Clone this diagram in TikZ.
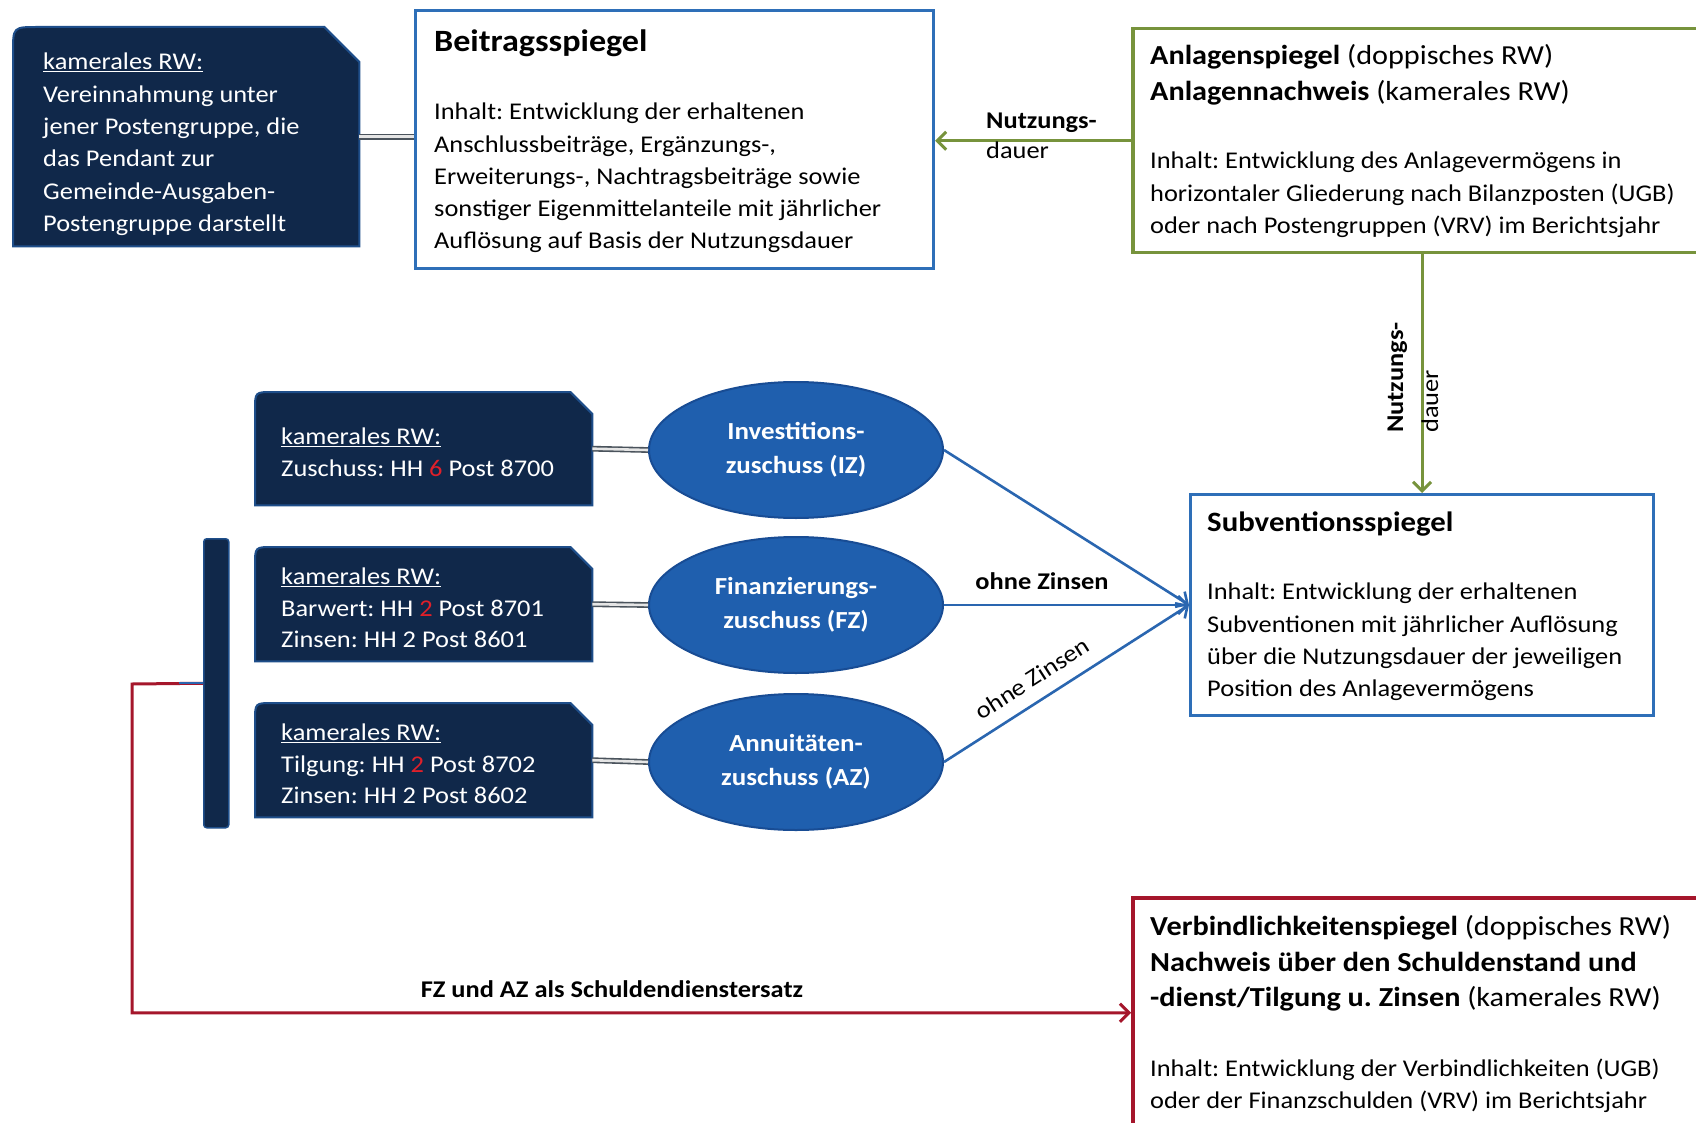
\documentclass[tikz,border=0pt]{standalone}
\usepackage{fontspec}
\setmainfont{Carlito}[FakeStretch=1.1]
\usetikzlibrary{arrows.meta,shapes.geometric,calc}
\definecolor{navy}{HTML}{10284A}
\definecolor{navyedge}{HTML}{1E4E8A}
\definecolor{ellfill}{HTML}{1F5FAE}
\definecolor{elledge}{HTML}{184C94}
\definecolor{boxblue}{HTML}{2E6FB8}
\definecolor{lineblue}{HTML}{2A66B0}
\definecolor{olive}{HTML}{77933C}
\definecolor{darkred}{HTML}{A5162B}
\definecolor{dblgray}{HTML}{4A535C}
\definecolor{digitred}{HTML}{E0202A}
\newcommand{\mysnip}[3]{%
  \filldraw[navybox] (#1.south west) -- ($(#1.north west)+(0,#3)$) .. controls (#1.north west) .. ($(#1.north west)+(#3,0)$) -- ($(#1.north east)+(-#2,0)$) -- ($(#1.north east)+(0,#2)$) -- (#1.south east) -- cycle;}
\frenchspacing
\begin{document}
\frenchspacing
\begin{tikzpicture}[x=1pt,y=-1pt,
  navybox/.style={fill=navy,draw=navyedge,line width=2pt},
  area/.style={draw=none,inner sep=0pt,anchor=north west},
  txt/.style={anchor=north west,inner sep=0pt,align=left,font=\fontsize{24}{32.2}\selectfont},
  wtxt/.style={txt,text=white},
  titletxt/.style={anchor=north west,inner sep=0pt,align=left,font=\fontsize{27.5}{35.8}\selectfont},
  btitle/.style={anchor=base west,inner sep=0pt,font=\bfseries\fontsize{#1}{30}\selectfont},
  lbl/.style={inner sep=0pt,font=\bfseries\fontsize{24}{26}\selectfont},
  plainlbl/.style={inner sep=0pt,font=\fontsize{24}{26}\selectfont},
  bluebox/.style={draw=boxblue,line width=3pt,fill=white,inner sep=0pt,anchor=north west},
  ell/.style={ellipse,fill=ellfill,draw=elledge,line width=2pt,minimum width=294pt,minimum height=136pt,inner sep=0pt,text=white,align=center,font=\bfseries\fontsize{24.5}{34}\selectfont},
  dbl/.style={draw=dblgray,line width=1.6pt,double=white!80!gray,double distance=2.6pt},
  tip/.style={-{Straight Barb[length=9pt,width=18pt]}},
  greenarr/.style={tip,draw=olive,line width=3pt},
  bluearr/.style={tip,draw=lineblue,line width=2.6pt},
  redarr/.style={tip,draw=darkred,line width=3pt}]
\useasboundingbox (0,0) rectangle (1696,1123);
\fill[white] (0,0) rectangle (1696,1123);

% top left dark box
\node[area,minimum width=346pt,minimum height=219pt] (k0) at (13,27) {};
\mysnip{k0}{35}{25}
\node[wtxt,font=\fontsize{24}{32.3}\selectfont] (k0t) at (43,53) {\underline{kamerales RW:}\\Vereinnahmung unter\\jener Postengruppe, die\\das Pendant zur\\Gemeinde-Ausgaben-\\Postengruppe darstellt};

% Beitragsspiegel
\node[bluebox,minimum width=518pt,minimum height=258pt] (bs) at (414,9) {};
\node[btitle=31] (bst) at (434,52) {Beitragsspiegel};
\node[txt] (bsb) at (434,103) {Inhalt: Entwicklung der erhaltenen\\Anschlussbeiträge, Ergänzungs-,\\Erweiterungs-, Nachtragsbeiträge sowie\\sonstiger Eigenmittelanteile mit jährlicher\\Auflösung auf Basis der Nutzungsdauer};
\draw[dbl] (k0.east) -- (k0.east -| bs.west);

% Anlagenspiegel
\node[area,draw=olive,line width=3.5pt,fill=white,minimum width=580pt,minimum height=224pt] (as) at (1131,27) {};
\node[titletxt] (ast) at (1150,44) {\textbf{Anlagenspiegel} (doppisches RW)\\\textbf{Anlagennachweis} (kamerales RW)};
\node[txt] (asb) at (1150,152) {Inhalt: Entwicklung des Anlagevermögens in\\horizontaler Gliederung nach Bilanzposten (UGB)\\oder nach Postengruppen (VRV) im Berichtsjahr};
\draw[greenarr] (as.west) -- (as.west -| bs.east);
\node[lbl,anchor=base west] (nd1) at (986,129) {Nutzungs-};
\node[plainlbl,anchor=base west] (nd2) at (986,159) {dauer};

% Subventionsspiegel
\node[bluebox,minimum width=463pt,minimum height=221pt] (sub) at (1189,493) {};
\node[btitle=28] (subt) at (1207,531) {Subventionsspiegel};
\node[txt] (subb) at (1207,583) {Inhalt: Entwicklung der erhaltenen\\Subventionen mit jährlicher Auflösung\\über die Nutzungsdauer der jeweiligen\\Position des Anlagevermögens};
\draw[greenarr] (sub.north |- as.south) -- (sub.north);
\node[lbl,anchor=base west,rotate=90] (nv1) at (1403,433) {Nutzungs-};
\node[plainlbl,anchor=base west,rotate=90] (nv2) at (1438,433) {dauer};

% middle dark boxes
\node[area,minimum width=337pt,minimum height=113pt] (m1) at (255,392) {};
\node[area,minimum width=337pt,minimum height=114pt] (m2) at (255,547) {};
\node[area,minimum width=337pt,minimum height=114pt] (m3) at (255,703) {};
\mysnip{m1}{22}{18}
\mysnip{m2}{22}{18}
\mysnip{m3}{22}{18}
\node[wtxt,font=\fontsize{24}{31.5}\selectfont] (m1t) at (281,428) {\underline{kamerales RW:}\\Zuschuss: HH \textcolor{digitred}{6} Post 8700};
\node[wtxt,font=\fontsize{24}{31.5}\selectfont] (m2t) at (281,568) {\underline{kamerales RW:}\\Barwert: HH \textcolor{digitred}{2} Post 8701\\Zinsen: HH 2 Post 8601};
\node[wtxt,font=\fontsize{24}{31.5}\selectfont] (m3t) at (281,724) {\underline{kamerales RW:}\\Tilgung: HH \textcolor{digitred}{2} Post 8702\\Zinsen: HH 2 Post 8602};

% ellipses
\node[ell] (e1) at (796,450) {Investitions-\\zuschuss (IZ)};
\node[ell] (e2) at (796,605) {Finanzierungs-\\zuschuss (FZ)};
\node[ell] (e3) at (796,762) {Annuitäten-\\zuschuss (AZ)};
\draw[dbl] (m1.east) -- (e1.west);
\draw[dbl] (m2.east) -- (e2.west);
\draw[dbl] (m3.east) -- (e3.west);

% arrows to Subventionsspiegel
\draw[bluearr] (e1.east) -- (sub.west);
\draw[bluearr] (e2.east) -- node[lbl,pos=0.4,above=14pt] (oz1) {ohne Zinsen} (sub.west);
\draw[bluearr] (e3.east) -- node[plainlbl,pos=0.41,sloped,above=13pt] (oz2) {ohne Zinsen} (sub.west);

% bracket
\node[area,minimum width=25pt,minimum height=289pt,fill=navy,draw=navyedge,line width=1.5pt,rounded corners=3pt] (br) at (203,538) {};

% Verbindlichkeitenspiegel
\node[area,draw=darkred,line width=3.5pt,fill=white,minimum width=580pt,minimum height=230pt] (vb) at (1131,896) {};
\node[titletxt] (vbt) at (1150,915) {\textbf{Verbindlichkeitenspiegel} (doppisches RW)\\\textbf{Nachweis über den Schuldenstand und}\\\textbf{-dienst/Tilgung u. Zinsen} (kamerales RW)};
\node[txt] (vbb) at (1150,1059) {Inhalt: Entwicklung der Verbindlichkeiten (UGB)\\oder der Finanzschulden (VRV) im Berichtsjahr};

% red connector
\coordinate (rc) at (132,684);
\draw[redarr] (br.west) -- (rc) |- (vb.west);
\draw[lineblue,line width=2pt] (br.west) -- ++(-24,0);
\node[lbl] (fzaz) at (612,989) {FZ und AZ als Schuldendienstersatz};
\end{tikzpicture}
\end{document}
